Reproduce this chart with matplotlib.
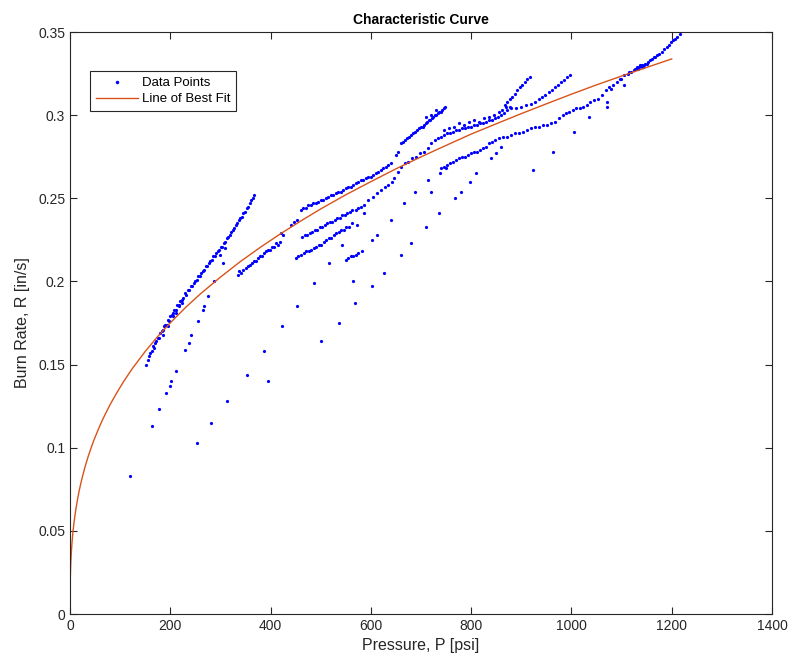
import matplotlib
matplotlib.use("Agg")
import matplotlib.pyplot as plt

plt.rcParams['font.family'] = ['Liberation Sans', 'DejaVu Sans']

# steep dense test (low pressure)
p_a = [152, 155, 158, 160, 163, 165, 167, 170, 172, 175, 178, 180, 183, 186, 188, 190, 193, 196, 198, 200,
       203, 206, 208, 211, 214, 217, 220, 223, 226, 229, 232, 235, 238, 241, 244, 247, 250, 253, 256, 259,
       262, 265, 268, 271, 274, 277, 280, 283, 286, 289, 292, 295, 298, 301, 304, 307, 310, 313, 316, 319,
       322, 325, 328, 331, 334, 337, 340, 343, 346, 349, 352, 355, 358, 361, 364, 366,
       185, 195, 205, 212, 218, 224, 300, 310]
r_a = [.150, .153, .155, .157, .158, .161, .160, .163, .164, .166, .166, .169, .170, .171, .173, .174, .174, .177, .176, .179,
       .180, .181, .183, .183, .186, .186, .188, .189, .190, .193, .192, .195, .195, .197, .197, .199, .200, .201, .203, .203,
       .205, .206, .207, .209, .209, .211, .212, .213, .215, .215, .217, .218, .219, .221, .221, .223, .224, .226, .227, .228,
       .230, .231, .232, .234, .235, .237, .238, .239, .241, .242, .244, .245, .247, .249, .250, .252,
       .168, .173, .179, .181, .185, .187, .216, .220]

# sparse start-up points
p_b = [119, 163, 178, 192, 199, 202, 211, 230, 237, 242, 255, 265, 267, 276, 288, 305]
r_b = [.083, .113, .123, .133, .137, .140, .146, .159, .163, .168, .176, .183, .185, .191, .200, .211]

p_c = [253, 281, 313, 352, 387, 423, 452, 487, 517, 543, 573, 587]
r_c = [.103, .115, .128, .144, .158, .173, .185, .199, .211, .222, .234, .241]

p_g = [395, 500, 537, 568, 603, 627, 660, 680, 710, 735, 767, 779, 797, 810, 840, 849, 860]
r_g = [.140, .164, .175, .187, .197, .205, .216, .223, .233, .241, .250, .254, .260, .265, .274, .277, .281]

p_j = [565, 603, 612, 640, 667, 689, 713, 719, 737, 750]
r_j = [.200, .225, .228, .237, .247, .254, .261, .254, .265, .268]

# test crossing the fit near 440 psi
p_d = [335, 338, 342, 346, 350, 354, 358, 362, 366, 370, 374, 378, 382, 386, 390, 394, 398, 402, 406, 410,
       414, 418, 420, 425, 440, 447, 452]
r_d = [.204, .206, .205, .207, .208, .209, .210, .211, .212, .212, .214, .215, .215, .217, .218, .219, .219, .221, .221, .223,
       .222, .224, .229, .228, .234, .236, .237]

p_e = [460, 465, 470, 475, 480, 485, 490, 495, 500, 505, 510, 515, 520, 525, 530, 535, 540, 545, 550, 555,
       560, 565, 570, 575, 580, 585, 590, 595, 600, 605, 610, 615, 620, 625, 630, 635, 640, 650, 655,
       660, 664, 668, 672, 676, 680, 684, 688, 692, 696, 700, 703, 706, 709, 712, 715, 718, 721, 724, 727,
       730, 733, 736, 739, 742, 745, 748, 710, 720, 730]
r_e = [.243, .244, .244, .246, .246, .247, .247, .248, .249, .249, .250, .251, .252, .252, .253, .254, .254, .255, .256, .257,
       .257, .258, .259, .260, .261, .261, .262, .263, .263, .264, .265, .266, .267, .268, .269, .270, .271, .276, .278,
       .283, .284, .285, .286, .287, .288, .289, .290, .291, .292, .293, .293, .294, .295, .296, .297, .297, .298, .299, .300,
       .300, .301, .302, .302, .303, .304, .305, .299, .300, .303]

p_f = [463, 468, 473, 478, 483, 488, 493, 498, 503, 508, 513, 518, 523, 528, 533, 538, 543, 548, 553, 558,
       563, 570, 575, 580, 587, 595, 605, 612, 620, 628, 635, 642, 647, 655, 660, 668, 675, 683, 690, 698,
       705, 713]
r_f = [.227, .228, .228, .229, .230, .231, .231, .233, .233, .234, .235, .236, .236, .237, .238, .238, .240, .240, .241, .242,
       .243, .243, .244, .245, .246, .249, .251, .253, .255, .257, .258, .260, .262, .266, .269, .271, .272, .274, .275, .277,
       .278, .280]

p_fl = [450, 455, 460, 466, 471, 476, 481, 486, 491, 496, 501, 506, 511, 516, 521, 526, 531, 536, 541, 546,
        551, 556, 563, 550, 555, 560, 565, 570, 575, 583]
r_fl = [.214, .215, .216, .217, .218, .218, .219, .220, .221, .222, .222, .224, .225, .226, .226, .228, .229, .230, .231, .231,
        .233, .233, .235, .213, .214, .215, .215, .216, .217, .218]

# dense band above the fit, 720-880 psi, and its two tails
p_k = [720, 727, 733, 740, 746, 752, 758, 764, 770, 776, 782, 788, 794, 800, 806, 812, 818, 824, 830, 836,
       842, 848, 854, 860, 866, 872, 878,
       745, 755, 765, 775, 785, 795, 805, 815, 825, 835, 845, 855, 862, 870]
r_k = [.283, .285, .286, .287, .288, .289, .289, .290, .291, .291, .292, .292, .293, .293, .294, .294, .295, .295, .296, .297,
       .297, .298, .299, .300, .301, .303, .305,
       .291, .292, .293, .295, .294, .296, .297, .296, .298, .299, .300, .302, .303, .305]

p_t1 = [867, 872, 877, 882, 887, 892, 897, 902, 907, 912, 917]
r_t1 = [.306, .308, .310, .311, .313, .315, .317, .318, .320, .322, .323]

p_t2 = [880, 890, 900, 910, 920, 928, 935, 942, 948, 955, 962, 968, 974, 980, 986, 992, 997]
r_t2 = [.304, .304, .305, .306, .307, .308, .310, .311, .312, .314, .315, .317, .318, .320, .321, .323, .324]

# lower dense test running to the top right
p_h = [740, 746, 752, 758, 764, 770, 776, 782, 788, 794, 800, 806, 812, 818, 824, 830, 836, 842, 848, 856,
       864, 872, 880, 888, 896, 904, 912, 920, 928, 936, 944, 952, 960, 968, 976, 984, 990, 996, 1003, 1010,
       1017, 1024, 1031, 1038, 1045, 1052, 1060, 1068, 1075, 1082, 1090, 1097, 1105, 1112, 1118, 1124, 1130, 1135, 1140, 1145]
r_h = [.268, .269, .270, .271, .272, .273, .274, .275, .275, .276, .277, .278, .278, .279, .280, .281, .283, .284, .285, .286,
       .287, .287, .288, .289, .289, .290, .291, .292, .293, .293, .294, .294, .295, .296, .298, .300, .301, .302, .303, .304,
       .304, .305, .306, .308, .309, .310, .312, .315, .317, .318, .320, .322, .324, .325, .326, .327, .328, .329, .329, .330]

p_tr = [1127, 1130, 1133, 1136, 1140, 1143, 1147, 1150, 1153, 1157, 1160, 1164, 1167, 1171, 1175, 1180, 1185, 1190, 1194, 1198,
        1202, 1206, 1210, 1217]
r_tr = [.328, .329, .328, .330, .330, .329, .331, .331, .332, .333, .334, .335, .335, .336, .337, .338, .340, .341, .342, .344,
        .345, .346, .347, .349]

p_s = [923, 963, 1005, 1035, 1071, 1079, 1099, 1105, 1115, 1070]
r_s = [.267, .278, .290, .299, .308, .316, .322, .318, .326, .305]

# line of best fit
fit_p = [0, 0.02, 0.1, 0.3, 0.6, 1, 1.5, 2, 3, 4, 5, 6, 8, 10, 12, 15, 18, 21, 25, 30,
         36, 42, 48, 56, 65, 73, 81, 95, 108, 125, 150, 175, 200, 230, 260, 300, 340, 380, 420, 460,
         500, 550, 600, 650, 700, 750, 800, 850, 900, 950, 1000, 1050, 1100, 1150, 1200]
fit_r = [0, .0064, .0114, .0169, .0216, .0260, .0301, .0334, .0386, .0428, .0464, .0496, .0550, .0596, .0636, .0689, .0736, .0778, .0828, .0885,
         .0945, .0998, .1048, .1107, .1169, .1218, .1265, .1339, .1403, .1479, .1579, .1669, .1751, .1842, .1925, .2026, .2120, .2206, .2287, .2363,
         .2436, .2521, .2600, .2677, .2749, .2818, .2886, .2948, .3009, .3068, .3126, .3182, .3235, .3287, .3338]

x_ticks = [0, 200, 400, 600, 800, 1000, 1200, 1400]
y_ticks = [0, 0.05, 0.1, 0.15, 0.2, 0.25, 0.3, 0.35]

pressure = p_a + p_b + p_c + p_g + p_j + p_d + p_e + p_f + p_fl + p_k + p_t1 + p_t2 + p_h + p_tr + p_s
rate = r_a + r_b + r_c + r_g + r_j + r_d + r_e + r_f + r_fl + r_k + r_t1 + r_t2 + r_h + r_tr + r_s

fig = plt.figure(figsize=(7.9, 6.67), dpi=100)
ax = fig.add_axes([70 / 790, 53 / 667, 702 / 790, 582 / 667])

ax.plot(pressure, rate, linestyle="none", marker="o", markersize=2.3, color="#0000ff",
        markeredgewidth=0, label="Data Points")
ax.plot(fit_p, fit_r, color="#d95319", linewidth=1.0, label="Line of Best Fit")

ax.set_xlim(0, 1400)
ax.set_ylim(0, 0.35)
ax.set_xticks(x_ticks)
ax.set_yticks(y_ticks)
ax.set_yticklabels(["%g" % v for v in y_ticks])
ax.tick_params(direction="in", top=True, right=True, length=5, labelsize=10, colors="#262626", width=0.8)
for sp in ax.spines.values():
    sp.set_color("#262626")
    sp.set_linewidth(0.8)

ax.set_title("Characteristic Curve", fontsize=10, fontweight="bold", pad=6)
ax.set_xlabel("Pressure, P [psi]", fontsize=11.5, color="#262626", labelpad=4)
ax.set_ylabel("Burn Rate, R [in/s]", fontsize=11.5, color="#262626", labelpad=6)

leg = ax.legend(loc="upper left", bbox_to_anchor=(0.028, 0.933), fontsize=9.5, frameon=True,
                fancybox=False, framealpha=1, edgecolor="#262626", borderpad=0.45,
                handlelength=3.2, handletextpad=0.3, labelspacing=0.3, borderaxespad=0, markerscale=1.1)
leg.get_frame().set_linewidth(0.8)

fig.savefig("out.png", dpi=100)
